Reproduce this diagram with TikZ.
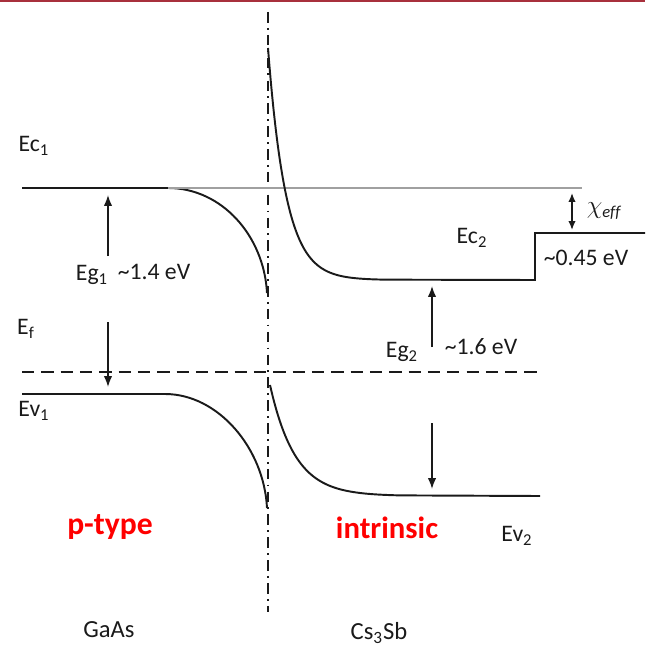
\documentclass[tikz,border=0pt]{standalone}
\usepackage{fontspec}
\setmainfont{Carlito}
\usetikzlibrary{arrows.meta,positioning}
\definecolor{slidered}{HTML}{A8303C}
\definecolor{typered}{HTML}{FF0000}
\definecolor{vacgray}{HTML}{A0A0A0}
\definecolor{ink}{HTML}{1A1A1A}
\newcommand{\lvlsub}[1]{\textsubscript{#1}}
\tikzset{
  band/.style={draw=ink,line width=1.1pt},
  fermi/.style={draw=ink,line width=1.1pt,dash pattern=on 7pt off 4pt},
  vacline/.style={draw=vacgray,line width=0.8pt},
  iface/.style={draw=ink,line width=0.6pt,dash pattern=on 6pt off 3pt on 1pt off 3pt},
  gaparr/.style={-{Latex[length=2.2mm,width=1.7mm]},line width=0.9pt,draw=ink},
  chiarr/.style={{Latex[length=1.8mm,width=1.5mm]}-{Latex[length=1.8mm,width=1.5mm]},
                 line width=0.9pt,draw=ink},
  lvl/.style={font=\fontsize{13.5}{15}\selectfont,text=ink,inner sep=1pt},
  mat/.style={font=\fontsize{14}{16}\selectfont,text=ink,inner sep=1pt},
  dopetag/.style={font=\fontsize{17.5}{20}\selectfont\bfseries,text=typered,inner sep=1pt}
}

\begin{document}
\begin{tikzpicture}[x=0.02cm,y=-0.02cm]
    \path[use as bounding box] (0,0) rectangle (645,648);
    \fill[slidered] (0,0) rectangle (645,2.5);

    % interface
    \coordinate (ifTop) at (268,12);
    \coordinate (ifBot) at (268,612);
    \draw[iface] (ifTop) -- (ifBot);

    % GaAs side
    \draw[band] (22,188) -- (168,188)
      .. controls (222,188) and (264,236) .. (267,293);
    \draw[band] (22,394) -- (165,394)
      .. controls (218,394) and (264,448) .. (267,508);
    \draw[vacline] (168,188) -- (582,188);
    \draw[fermi] (22,372) -- (540,372);

    % Cs3Sb side
    \draw[band] plot[domain=268:385,samples=90,smooth]
      (\x,{280-232*exp(-(\x-268)/18)}) -- (535,280) -- (535,233) -- (645,233);
    \draw[band] plot[domain=270:400,samples=80,smooth]
      (\x,{496-111*exp(-(\x-270)/25)}) -- (540,496);

    % gap arrows
    \coordinate (eg1Tail) at (108,256);
    \coordinate (eg1Head) at (108,195);
    \coordinate (ef1Tail) at (108,322);
    \coordinate (ef1Head) at (108,387);
    \coordinate (eg2Tail) at (432,347);
    \coordinate (eg2Head) at (432,286);
    \coordinate (ev2Tail) at (432,423);
    \coordinate (ev2Head) at (432,489);
    \coordinate (chiTop) at (572,193);
    \coordinate (chiBot) at (572,230);
    \draw[gaparr] (eg1Tail) -- (eg1Head);
    \draw[gaparr] (ef1Tail) -- (ef1Head);
    \draw[gaparr] (eg2Tail) -- (eg2Head);
    \draw[gaparr] (ev2Tail) -- (ev2Head);
    \draw[chiarr] (chiTop) -- (chiBot);

    % labels
    \node[lvl] (ec1) at (34,146) {Ec\lvlsub{1}};
    \node[lvl] (eg1) at (92,275) {Eg\lvlsub{1}};
    \node[lvl] (eg1val) at (154,272) {\textasciitilde1.4 eV};
    \node[lvl] (ef) at (26,329) {E\lvlsub{f}};
    \node[lvl] (ev1) at (34,411) {Ev\lvlsub{1}};
    \node[lvl] (ec2) at (472,238) {Ec\lvlsub{2}};
    \node[lvl] (eg2) at (402,352) {Eg\lvlsub{2}};
    \node[lvl] (eg2val) at (481,347) {\textasciitilde1.6 eV};
    \node[lvl] (affin) at (586,258) {\textasciitilde0.45 eV};
    \node[lvl] (chi) at (604,211) {$\chi_{\mathit{eff}}$};
    \node[lvl] (ev2) at (517,536) {Ev\lvlsub{2}};
    \node[dopetag,font=\fontsize{18}{20}\selectfont\bfseries] (ptype) at (110,527) {p-type};
    \node[dopetag] (intr) at (387,528) {intrinsic};
    \node[mat] (gaas) at (109,630) {GaAs};
    \node[mat] (cssb) at (379,633) {Cs\lvlsub{3}Sb};
  \end{tikzpicture}
\end{document}
